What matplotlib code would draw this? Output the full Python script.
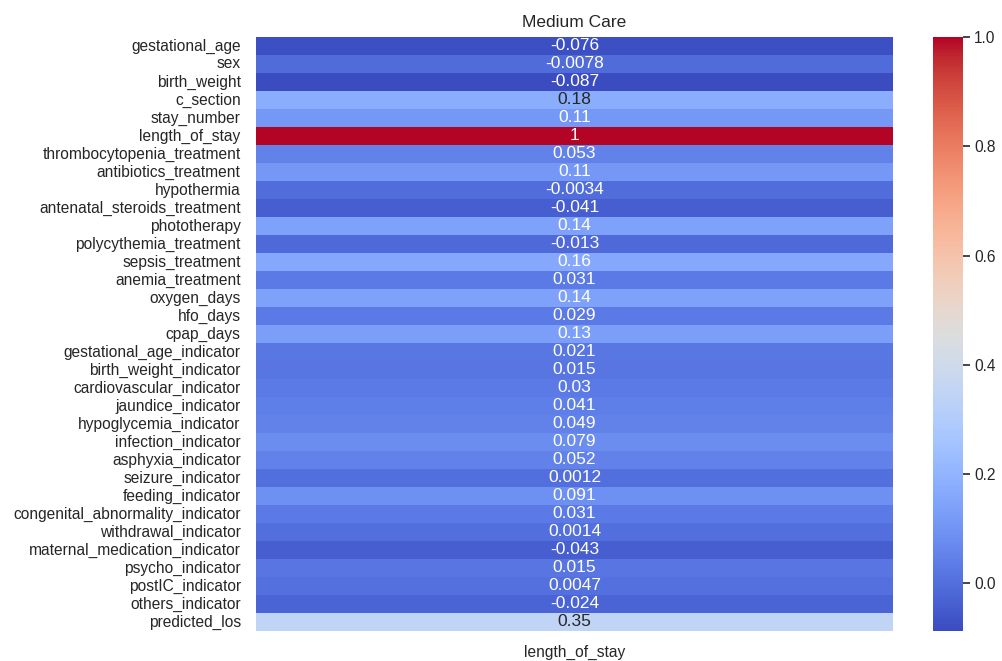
""" Medium Care correlation heatmap """

import matplotlib
matplotlib.use("Agg")
import matplotlib.pyplot as plt
import numpy as np
import pandas as pd
import seaborn as sns

features = [
    "gestational_age", "sex", "birth_weight", "c_section", "stay_number",
    "length_of_stay", "thrombocytopenia_treatment", "antibiotics_treatment",
    "hypothermia", "antenatal_steroids_treatment", "phototherapy",
    "polycythemia_treatment", "sepsis_treatment", "anemia_treatment",
    "oxygen_days", "hfo_days", "cpap_days", "gestational_age_indicator",
    "birth_weight_indicator", "cardiovascular_indicator", "jaundice_indicator",
    "hypoglycemia_indicator", "infection_indicator", "asphyxia_indicator",
    "seizure_indicator", "feeding_indicator",
    "congenital_abnormality_indicator", "withdrawal_indicator",
    "maternal_medication_indicator", "psycho_indicator", "postIC_indicator",
    "others_indicator", "predicted_los",
]
corr_los = [
    -0.076, -0.0078, -0.087, 0.18, 0.11, 1.0, 0.053, 0.11, -0.0034, -0.041,
    0.14, -0.013, 0.16, 0.031, 0.14, 0.029, 0.13, 0.021, 0.015, 0.03, 0.041,
    0.049, 0.079, 0.052, 0.0012, 0.091, 0.031, 0.0014, -0.043, 0.015, 0.0047,
    -0.024, 0.35,
]


def main():
    sns.set_style("white")
    plt.rcParams["font.family"] = ["Liberation Sans", "DejaVu Sans"]
    df = pd.DataFrame({"length_of_stay": corr_los}, index=features)

    fig = plt.figure(figsize=(10.03, 6.61), dpi=100)
    W, H = 1003, 661
    ax = fig.add_axes([256 / W, 1 - 631 / H, (893 - 256) / W, 594 / H])
    cax = fig.add_axes([933 / W, 1 - 631 / H, 30 / W, 594 / H])

    sns.heatmap(df, annot=True, cmap="coolwarm", ax=ax, cbar_ax=cax,
                annot_kws={"fontsize": 12.5})
    ax.set_title("Medium Care", fontsize=12.5, pad=7)
    ax.tick_params(axis="y", labelsize=11.2, length=0, pad=11)
    ax.tick_params(axis="x", labelsize=11.2, length=0, pad=10)
    cax.tick_params(labelsize=11.2, length=5, width=1.2, pad=3)
    cax.set_yticks(np.arange(0, 1.01, 0.2))
    cax.set_yticklabels([f"{t:.1f}" for t in np.arange(0, 1.01, 0.2)])

    fig.savefig("out.png", dpi=100)


if __name__ == "__main__":
    main()
